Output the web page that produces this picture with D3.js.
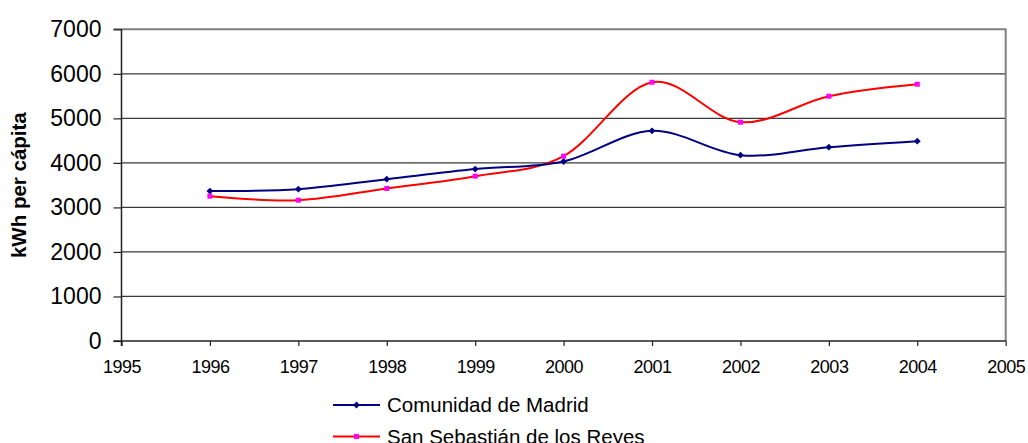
<!DOCTYPE html>
<html>
<head>
<meta charset="utf-8">
<script src="https://cdn.jsdelivr.net/npm/d3@7"></script>
<style>
  html, body { margin: 0; padding: 0; background: #fff; }
  svg { display: block; font-family: "Liberation Sans", Arial, sans-serif; }
</style>
</head>
<body>
<svg id="chart" width="1028" height="443"></svg>
<script>
// Electricity consumption per inhabitant (kWh)
const years = [1996, 1997, 1998, 1999, 2000, 2001, 2002, 2003, 2004];
const madrid = [3366, 3410, 3635, 3860, 4032, 4719, 4173, 4353, 4488];
const sanSebastian = [3253, 3163, 3426, 3702, 4151, 5811, 4914, 5497, 5766];
const xTicks = [1995, 1996, 1997, 1998, 1999, 2000, 2001, 2002, 2003, 2004, 2005];
const yTicks = [0, 1000, 2000, 3000, 4000, 5000, 6000, 7000];
const seriesNames = ["Comunidad de Madrid", "San Sebastián de los Reyes"];

const svg = d3.select("#chart");
const plotLeft = 121.5, plotRight = 1005.7, plotTop = 29.3, plotBottom = 341;

const x = d3.scaleLinear().domain([1995, 2005]).range([plotLeft, plotRight]);
const y = d3.scaleLinear().domain([0, 7000]).range([plotBottom, plotTop]);

// horizontal gridlines
svg.append("g")
  .selectAll("line")
  .data(yTicks.filter(d => d > 0 && d < 7000))
  .join("line")
  .attr("x1", plotLeft).attr("x2", plotRight)
  .attr("y1", d => y(d)).attr("y2", d => y(d))
  .attr("stroke", "#3a3a3a").attr("stroke-width", 1.2);

// plot border (top and right)
svg.append("path")
  .attr("d", `M${plotLeft - 8},${plotTop}H${plotRight}V${plotBottom}`)
  .attr("fill", "none").attr("stroke", "#808080").attr("stroke-width", 2);

// y axis
const yAxis = svg.append("g")
  .attr("transform", `translate(${plotLeft},0)`)
  .call(d3.axisLeft(y).tickValues(yTicks).tickSize(8).tickPadding(12).tickFormat(d3.format("d")));
yAxis.select(".domain").attr("stroke", "#222").attr("stroke-width", 1.5).attr("d", `M0,${plotTop}V${plotBottom + 5}`);
yAxis.selectAll(".tick line").attr("stroke", "#222").attr("stroke-width", 1.2);
yAxis.selectAll(".tick text").attr("font-size", 23).attr("fill", "#000")
  .attr("font-family", "Liberation Sans, Arial, sans-serif");

// x axis
const xAxis = svg.append("g")
  .attr("transform", `translate(0,${plotBottom})`)
  .call(d3.axisBottom(x).tickValues(xTicks).tickSize(5).tickPadding(14).tickFormat(d3.format("d")));
xAxis.select(".domain").attr("stroke", "#222").attr("stroke-width", 1.5).attr("d", `M${plotLeft - 8},0H${plotRight}`);
xAxis.selectAll(".tick line").attr("stroke", "#222").attr("stroke-width", 1.2);
xAxis.selectAll(".tick text").attr("font-size", 18).attr("fill", "#000")
  .attr("letter-spacing", -0.5)
  .attr("font-family", "Liberation Sans, Arial, sans-serif");

// y axis title
svg.append("text")
  .attr("transform", `translate(26,${(plotTop + plotBottom) / 2}) rotate(-90)`)
  .attr("text-anchor", "middle")
  .attr("font-size", 20.5).attr("font-weight", "bold")
  .text("kWh per cápita");

// smoothed lines
const line = d3.line()
  .x(d => x(d[0])).y(d => y(d[1]))
  .curve(d3.curveCatmullRom.alpha(0));

const dataMadrid = years.map((yr, i) => [yr, madrid[i]]);
const dataSS = years.map((yr, i) => [yr, sanSebastian[i]]);

svg.append("path").datum(dataSS)
  .attr("d", line).attr("fill", "none")
  .attr("stroke", "#ff0000").attr("stroke-width", 2);

svg.append("path").datum(dataMadrid)
  .attr("d", line).attr("fill", "none")
  .attr("stroke", "#000080").attr("stroke-width", 2);

const diamond = d3.symbol().type(d3.symbolDiamond2).size(30);

svg.append("g").selectAll("path")
  .data(dataMadrid).join("path")
  .attr("d", diamond)
  .attr("transform", d => `translate(${x(d[0])},${y(d[1])})`)
  .attr("fill", "#000080");

svg.append("g").selectAll("rect")
  .data(dataSS).join("rect")
  .attr("x", d => x(d[0]) - 2.5).attr("y", d => y(d[1]) - 2.5)
  .attr("width", 5).attr("height", 5)
  .attr("fill", "#ff00ff");

// legend
const legend = svg.append("g").attr("transform", "translate(333,405)");
const rowGap = 31.5;
const colors = ["#000080", "#ff0000"];
seriesNames.forEach((name, i) => {
  const g = legend.append("g").attr("transform", `translate(0,${i * rowGap})`);
  g.append("line").attr("x1", 0).attr("x2", 47).attr("y1", 0).attr("y2", 0)
    .attr("stroke", colors[i]).attr("stroke-width", 2);
  if (i === 0) {
    g.append("path").attr("d", diamond).attr("transform", "translate(23.5,0)").attr("fill", "#000080");
  } else {
    g.append("rect").attr("x", 21).attr("y", -2.5).attr("width", 5).attr("height", 5).attr("fill", "#ff00ff");
  }
  g.append("text").attr("x", 54).attr("y", 0).attr("dy", "0.36em")
    .attr("font-size", 20.5).attr("fill", "#000").text(name);
});
</script>
</body>
</html>
